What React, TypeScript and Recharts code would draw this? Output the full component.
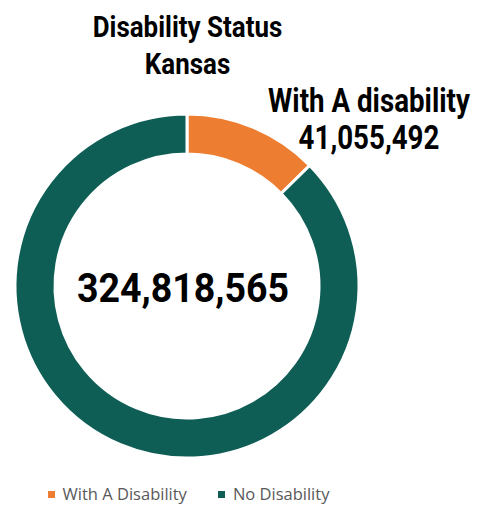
import React from 'react';
import { PieChart, Pie, Cell, Legend, Label } from 'recharts';

const categories = ['With A Disability', 'No Disability'];
const values = [41055492, 283763073];
const colors = ['#ED7D31', '#0F5E56'];
const titleLines = ['Disability Status', 'Kansas'];
const totalLabel = '324,818,565';
const calloutTitle = 'With A disability';
const calloutValue = '41,055,492';

const data = categories.map((name, i) => ({ name, value: values[i] }));

// Roboto bold squeezed horizontally to stand in for a condensed face
const CondText = ({ x, y, size, sx, children }: { x: number; y: number; size: number; sx: number; children: React.ReactNode }) => (
  <text
    transform={`translate(${x},${y}) scale(${sx},1)`}
    textAnchor="middle"
    fontFamily="Roboto, sans-serif"
    fontWeight={700}
    fontSize={size}
    fill="#000"
  >
    {children}
  </text>
);

const LegendContent = () => (
  <div style={{ display: 'flex', justifyContent: 'center', gap: 31, fontFamily: '"Open Sans", sans-serif', fontSize: 16.5, lineHeight: '20px', color: '#595959' }}>
    {categories.map((c, i) => (
      <span key={c} style={{ display: 'flex', alignItems: 'center' }}>
        <span style={{ width: 7, height: 7, background: colors[i], marginRight: 8, display: 'inline-block' }} />
        {c}
      </span>
    ))}
  </div>
);

const App: React.FC = () => {
  return (
    <div style={{ position: 'absolute', left: 0, top: 0, width: 489, height: 506, background: '#fff' }}>
      <PieChart width={489} height={506} margin={{ top: 0, right: 0, bottom: 0, left: 0 }}>
        <Pie
          data={data}
          dataKey="value"
          nameKey="name"
          cx={187}
          cy={286}
          innerRadius={132}
          outerRadius={172}
          startAngle={90}
          endAngle={-270}
          stroke="#fff"
          strokeWidth={3}
          isAnimationActive={false}
        >
          {data.map((d, i) => (
            <Cell key={d.name} fill={colors[i]} />
          ))}
          <Label
            position="center"
            content={() => (
              <g>
                <CondText x={187.5} y={37} size={30} sx={0.865}>{titleLines[0]}</CondText>
                <CondText x={187.5} y={74} size={30} sx={0.865}>{titleLines[1]}</CondText>
                <CondText x={369} y={112} size={33} sx={0.84}>{calloutTitle}</CondText>
                <CondText x={369} y={149} size={33} sx={0.84}>{calloutValue}</CondText>
                <CondText x={183} y={302} size={41} sx={0.915}>{totalLabel}</CondText>
              </g>
            )}
          />
        </Pie>
        <Legend
          verticalAlign="bottom"
          wrapperStyle={{ left: 0, width: 377, top: 484 }}
          content={LegendContent}
        />
      </PieChart>
    </div>
  );
};

export default App;
